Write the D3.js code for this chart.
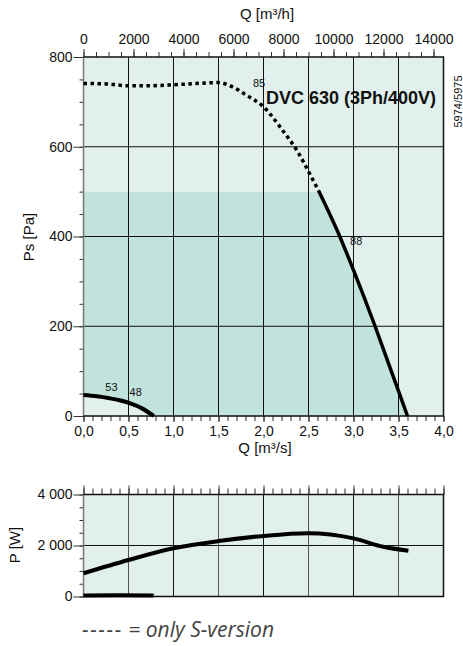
<!DOCTYPE html>
<html lang="en">
  <head>
    <meta charset="utf-8">
    <title>DVC 630 fan curve</title>
    <script src="https://cdn.jsdelivr.net/npm/d3@7"></script>
    <style>
      body { margin: 0; background: #fff; }
      text { font-family: 'Liberation Sans', Arial, sans-serif; fill: #111; }
    </style>
  </head>
  <body>
    <div id="chart"></div>

    <script type='text/javascript'>
      // pressure curve, max speed (dotted part = S-version only)
      let qMaxDot  = [0, 0.25, 0.5, 0.75, 1.0, 1.25, 1.5, 1.65, 1.8, 2.0, 2.21, 2.38, 2.51, 2.61];
      let psMaxDot = [741, 740, 736, 736, 738, 741, 743, 734, 716, 689, 637, 589, 541, 503];
      let qMaxSol  = [2.61, 2.85, 3.0, 3.24, 3.42, 3.6];
      let psMaxSol = [503, 399, 325, 200, 100, 0];
      // pressure curve, min speed
      let qMin  = [0, 0.15, 0.29, 0.4, 0.52, 0.65, 0.78];
      let psMin = [47, 44, 39.5, 35, 28, 17, 0];
      // power curves
      let qPow  = [0, 0.5, 1.0, 1.5, 2.0, 2.5, 3.0, 3.33, 3.61];
      let pPow  = [910, 1430, 1890, 2175, 2375, 2480, 2280, 1950, 1796];
      let qPowMin = [0, 0.4, 0.78];
      let pPowMin = [40, 45, 40];
      // ticks
      let qTicks  = [0, 0.5, 1.0, 1.5, 2.0, 2.5, 3.0, 3.5, 4.0];
      let qhTicks = [0, 2000, 4000, 6000, 8000, 10000, 12000, 14000];
      let psTicks = [0, 200, 400, 600, 800];
      let pTicks  = [0, 2000, 4000];
      let limitPs = 500;
      // efficiency labels
      let effLabels = ['85', '88', '53', '48'];
      let effQ  = [1.95, 3.03, 0.31, 0.58];
      let effPs = [733, 380, 56, 45];

      let width = 463, height = 646;
      let svg = d3.select('#chart').append('svg')
        .attr('width', width)
        .attr('height', height);

      let x = d3.scaleLinear().domain([0, 4]).range([83.5, 443.5]);
      let xh = d3.scaleLinear().domain([0, 14400]).range([83.5, 443.5]);
      let y = d3.scaleLinear().domain([0, 800]).range([416, 57]);
      let yp = d3.scaleLinear().domain([0, 4000]).range([596.5, 494.5]);

      let light = '#e1f0ed', dark = '#c2e2dc';
      let zip = (a, b) => a.map((d, i) => [d, b[i]]);

      // ---------- pressure chart ----------
      let upper = svg.append('g');
      upper.append('rect')
        .attr('x', x(0)).attr('y', y(800))
        .attr('width', x(4) - x(0)).attr('height', y(0) - y(800))
        .attr('fill', light);

      // operating area (between min and max curves, below the limit)
      let maxAll = zip(qMaxDot, psMaxDot).concat(zip(qMaxSol, psMaxSol).slice(1));
      let curveLine = d3.line().x(d => x(d[0])).y(d => y(d[1])).curve(d3.curveMonotoneX);
      upper.append('clipPath').attr('id', 'maxclip')
        .append('path')
        .attr('d', curveLine(maxAll) + 'L' + x(0) + ',' + y(0) + 'Z');
      let minPts = zip(qMin, psMin);
      upper.append('path')
        .attr('clip-path', 'url(#maxclip)')
        .attr('fill', dark)
        .attr('d', 'M' + x(0) + ',' + y(limitPs) + 'L' + x(4) + ',' + y(limitPs) + 'L' + x(4) + ',' + y(0) +
          'L' + x(qMin[qMin.length - 1]) + ',' + y(0) +
          curveLine(minPts.slice().reverse()).replace('M', 'L') + 'Z');

      // grid
      upper.selectAll('.vg').data(qTicks.slice(1, -1)).enter().append('line')
        .attr('x1', d => x(d)).attr('x2', d => x(d))
        .attr('y1', y(800)).attr('y2', y(0))
        .attr('stroke', '#111').attr('stroke-width', 1);
      upper.selectAll('.hg').data(psTicks.slice(1, -1)).enter().append('line')
        .attr('x1', x(0)).attr('x2', x(4))
        .attr('y1', d => y(d)).attr('y2', d => y(d))
        .attr('stroke', '#111').attr('stroke-width', 1);

      // axes
      let tickStyle = g => {
        g.select('.domain').remove();
        g.selectAll('line').attr('stroke', '#333');
        g.selectAll('text').attr('font-size', 14).attr('fill', '#111')
          .style('font-family', "'Liberation Sans', Arial, sans-serif");
      };
      let fmtQ = d => d3.format('.1f')(d).replace('.', ',');

      upper.append('g').attr('transform', 'translate(0,' + y(0) + ')')
        .call(d3.axisBottom(x).tickValues(d3.range(0, 4.01, 0.1)).tickSize(5).tickFormat(''))
        .call(tickStyle);
      upper.append('g').attr('transform', 'translate(0,' + y(0) + ')')
        .call(d3.axisBottom(x).tickValues(qTicks).tickSize(6).tickPadding(4).tickFormat(fmtQ))
        .call(tickStyle);
      upper.append('g').attr('transform', 'translate(0,' + y(800) + ')')
        .call(d3.axisTop(xh).tickValues(d3.range(0, 14001, 500)).tickSize(5).tickFormat(''))
        .call(tickStyle);
      upper.append('g').attr('transform', 'translate(0,' + y(800) + ')')
        .call(d3.axisTop(xh).tickValues(qhTicks).tickSize(8).tickPadding(5).tickFormat(d => d))
        .call(tickStyle);
      upper.append('g').attr('transform', 'translate(' + x(0) + ',0)')
        .call(d3.axisLeft(y).tickValues(d3.range(0, 801, 50)).tickSize(4).tickFormat(''))
        .call(tickStyle);
      upper.append('g').attr('transform', 'translate(' + x(0) + ',0)')
        .call(d3.axisLeft(y).tickValues(psTicks).tickSize(10).tickPadding(1).tickFormat(d => d))
        .call(tickStyle);

      // frame
      upper.append('line').attr('x1', x(0)).attr('x2', x(0)).attr('y1', y(800)).attr('y2', y(0))
        .attr('stroke', '#777').attr('stroke-width', 1.5);
      upper.append('path')
        .attr('d', 'M' + x(0) + ',' + y(800) + 'H' + x(4) + 'V' + y(0) + 'H' + x(0))
        .attr('fill', 'none').attr('stroke', '#111').attr('stroke-width', 1.5);

      // curves
      upper.append('path').attr('d', curveLine(zip(qMaxDot, psMaxDot)))
        .attr('fill', 'none').attr('stroke', '#000').attr('stroke-width', 3.5)
        .attr('stroke-dasharray', '3.5,3.5');
      upper.append('path').attr('d', curveLine(zip(qMaxSol, psMaxSol)))
        .attr('fill', 'none').attr('stroke', '#000').attr('stroke-width', 3.5);
      upper.append('path').attr('d', curveLine(minPts))
        .attr('fill', 'none').attr('stroke', '#000').attr('stroke-width', 4);

      upper.selectAll('.eff').data(effLabels).enter().append('text')
        .attr('x', (d, i) => x(effQ[i])).attr('y', (d, i) => y(effPs[i]))
        .attr('text-anchor', 'middle').attr('font-size', 11)
        .text(d => d);

      // titles
      svg.append('text').attr('x', 267).attr('y', 19).attr('text-anchor', 'middle')
        .attr('font-size', 15).text('Q [m³/h]');
      svg.append('text').attr('x', 265).attr('y', 453).attr('text-anchor', 'middle')
        .attr('font-size', 15).text('Q [m³/s]');
      svg.append('text').attr('transform', 'translate(34,237) rotate(-90)').attr('text-anchor', 'middle')
        .attr('font-size', 15).text('Ps [Pa]');
      svg.append('text').attr('x', 266).attr('y', 104)
        .attr('font-size', 18).attr('font-weight', 'bold').text('DVC 630 (3Ph/400V)');
      svg.append('text').attr('transform', 'translate(462,101.5) rotate(-90)').attr('text-anchor', 'middle')
        .attr('font-size', 11).text('5974/5975');

      // ---------- power chart ----------
      let lower = svg.append('g');
      lower.append('rect')
        .attr('x', x(0)).attr('y', yp(4000))
        .attr('width', x(4) - x(0)).attr('height', yp(0) - yp(4000))
        .attr('fill', light);
      lower.selectAll('.vg').data(qTicks.slice(1, -1)).enter().append('line')
        .attr('x1', d => x(d)).attr('x2', d => x(d))
        .attr('y1', yp(4000)).attr('y2', yp(0))
        .attr('stroke', (d, i) => i % 2 ? '#111' : '#555').attr('stroke-width', 1);
      lower.append('line').attr('x1', x(0)).attr('x2', x(4)).attr('y1', yp(2000)).attr('y2', yp(2000))
        .attr('stroke', '#111');

      lower.append('g').attr('transform', 'translate(0,' + yp(4000) + ')')
        .call(d3.axisTop(x).tickValues(d3.range(0, 4.01, 0.1)).tickSize(6).tickFormat(''))
        .call(tickStyle);
      lower.append('g').attr('transform', 'translate(0,' + yp(4000) + ')')
        .call(d3.axisTop(x).tickValues(qTicks).tickSize(9).tickFormat(''))
        .call(tickStyle);
      lower.append('g').attr('transform', 'translate(' + x(0) + ',0)')
        .call(d3.axisLeft(yp).tickValues(d3.range(0, 4001, 500)).tickSize(4).tickFormat(''))
        .call(tickStyle);
      lower.append('g').attr('transform', 'translate(' + x(0) + ',0)')
        .call(d3.axisLeft(yp).tickValues(pTicks).tickSize(10).tickPadding(1)
          .tickFormat(d => d3.format(',')(d).replace(',', ' ')))
        .call(tickStyle);

      lower.append('line').attr('x1', x(0)).attr('x2', x(0)).attr('y1', yp(4000)).attr('y2', yp(0))
        .attr('stroke', '#777').attr('stroke-width', 1.5);
      lower.append('path')
        .attr('d', 'M' + x(0) + ',' + yp(4000) + 'H' + x(4) + 'V' + yp(0) + 'H' + x(0))
        .attr('fill', 'none').attr('stroke', '#111').attr('stroke-width', 1.5);

      let powLine = d3.line().x(d => x(d[0])).y(d => yp(d[1])).curve(d3.curveMonotoneX);
      lower.append('path').attr('d', powLine(zip(qPow, pPow)))
        .attr('fill', 'none').attr('stroke', '#000').attr('stroke-width', 4);
      lower.append('path').attr('d', powLine(zip(qPowMin, pPowMin)))
        .attr('fill', 'none').attr('stroke', '#000').attr('stroke-width', 4);

      svg.append('text').attr('transform', 'translate(20,545) rotate(-90)').attr('text-anchor', 'middle')
        .attr('font-size', 15).text('P [W]');
      let note = svg.append('text').attr('x', 82).attr('y', 637)
        .attr('font-size', 21).attr('font-style', 'italic')
        .style('font-family', "'Open Sans', sans-serif").style('fill', '#444');
      note.append('tspan').attr('letter-spacing', 1.6).text('-----');
      note.append('tspan').text(' = only S-version');
    </script>
  </body>
</html>
